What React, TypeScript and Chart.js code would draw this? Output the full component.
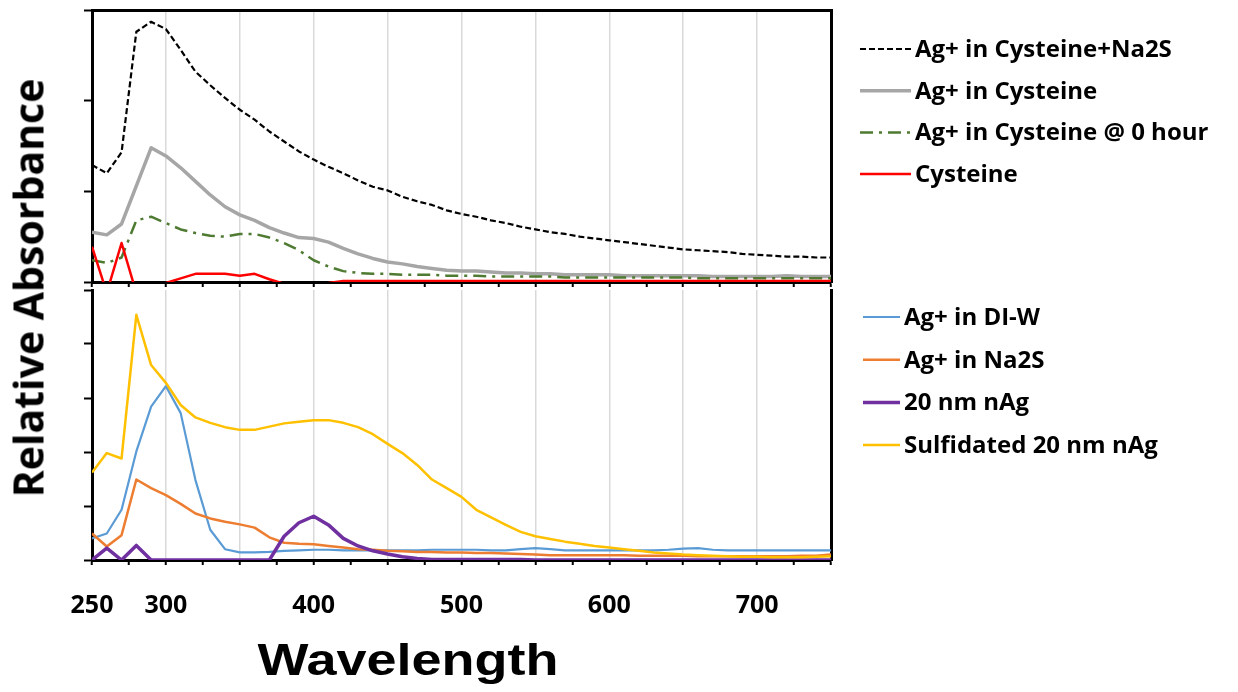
import React, { useEffect, useRef } from 'react';
import { Chart, registerables } from 'chart.js';

Chart.register(...registerables);

// ---------- data ----------
const WAVELENGTHS = [
  250, 260, 270, 280, 290, 300, 310, 320, 330, 340,
  350, 360, 370, 380, 390, 400, 410, 420, 430, 440,
  450, 460, 470, 480, 490, 500, 510, 520, 530, 540,
  550, 560, 570, 580, 590, 600, 610, 620, 630, 640,
  650, 660, 670, 680, 690, 700, 710, 720, 730, 740,
  750,
];

const X_TICK_LABELS = [250, 300, 400, 500, 600, 700];

// top panel
const AG_CYS_NA2S = [
  1.29, 1.20, 1.43, 2.76, 2.87, 2.79, 2.56, 2.32, 2.17, 2.03,
  1.90, 1.79, 1.66, 1.55, 1.44, 1.35, 1.27, 1.20, 1.12, 1.05,
  1.01, 0.94, 0.89, 0.85, 0.79, 0.75, 0.72, 0.68, 0.65, 0.61,
  0.58, 0.55, 0.53, 0.50, 0.48, 0.46, 0.44, 0.42, 0.40, 0.38,
  0.36, 0.35, 0.34, 0.33, 0.31, 0.30, 0.29, 0.28, 0.28, 0.27,
  0.27,
];
const AG_CYS = [
  0.55, 0.52, 0.64, 1.06, 1.48, 1.39, 1.26, 1.11, 0.96, 0.83,
  0.74, 0.68, 0.60, 0.54, 0.49, 0.48, 0.44, 0.37, 0.31, 0.26,
  0.22, 0.20, 0.17, 0.15, 0.13, 0.12, 0.12, 0.11, 0.10, 0.10,
  0.09, 0.09, 0.08, 0.08, 0.08, 0.08, 0.07, 0.07, 0.07, 0.07,
  0.07, 0.07, 0.06, 0.06, 0.06, 0.06, 0.06, 0.07, 0.06, 0.06,
  0.06,
];
const AG_CYS_0H = [
  0.24, 0.21, 0.27, 0.68, 0.72, 0.65, 0.58, 0.54, 0.51, 0.50,
  0.53, 0.53, 0.49, 0.43, 0.35, 0.24, 0.17, 0.12, 0.10, 0.09,
  0.09, 0.08, 0.08, 0.08, 0.07, 0.07, 0.07, 0.06, 0.06, 0.06,
  0.06, 0.06, 0.05, 0.05, 0.05, 0.05, 0.05, 0.05, 0.05, 0.05,
  0.05, 0.04, 0.04, 0.04, 0.04, 0.04, 0.04, 0.04, 0.04, 0.04,
  0.04,
];
const CYSTEINE = [
  0.39, -0.12, 0.43, -0.12, -0.15, -0.01, 0.04, 0.09, 0.09, 0.09,
  0.07, 0.09, 0.03, -0.02, -0.03, -0.02, -0.01, 0.01, 0.01, 0.01,
  0.01, 0.01, 0.01, 0.01, 0.01, 0.01, 0.01, 0.01, 0.01, 0.01,
  0.01, 0.01, 0.01, 0.01, 0.01, 0.01, 0.01, 0.01, 0.01, 0.01,
  0.01, 0.01, 0.01, 0.01, 0.01, 0.01, 0.01, 0.01, 0.01, 0.01,
  0.01,
];

// bottom panel
const AG_DIW = [
  0.40, 0.49, 0.93, 2.01, 2.84, 3.22, 2.72, 1.48, 0.56, 0.20,
  0.14, 0.14, 0.15, 0.17, 0.18, 0.19, 0.19, 0.18, 0.18, 0.18,
  0.18, 0.18, 0.18, 0.19, 0.19, 0.19, 0.19, 0.18, 0.18, 0.20,
  0.22, 0.20, 0.18, 0.18, 0.18, 0.18, 0.18, 0.18, 0.18, 0.19,
  0.21, 0.22, 0.19, 0.18, 0.18, 0.18, 0.18, 0.18, 0.18, 0.18,
  0.18,
];
const AG_NA2S = [
  0.49, 0.25, 0.46, 1.49, 1.33, 1.20, 1.04, 0.86, 0.77, 0.71,
  0.66, 0.60, 0.42, 0.32, 0.30, 0.29, 0.26, 0.23, 0.20, 0.19,
  0.17, 0.16, 0.15, 0.15, 0.14, 0.14, 0.13, 0.13, 0.12, 0.11,
  0.10, 0.09, 0.09, 0.09, 0.09, 0.09, 0.09, 0.08, 0.08, 0.08,
  0.08, 0.07, 0.07, 0.07, 0.07, 0.07, 0.07, 0.07, 0.08, 0.08,
  0.10,
];
const NAG_20 = [
  0.00, 0.22, 0.00, 0.27, 0.00, 0.00, 0.00, 0.00, 0.00, 0.00,
  0.00, 0.00, 0.00, 0.44, 0.69, 0.81, 0.65, 0.40, 0.26, 0.17,
  0.11, 0.06, 0.03, 0.01, 0.01, 0.01, 0.01, 0.01, 0.01, 0.01,
  0.00, 0.00, 0.00, 0.00, 0.00, 0.00, 0.00, 0.00, 0.00, 0.00,
  0.00, 0.00, 0.00, 0.00, 0.00, 0.00, 0.00, 0.00, 0.00, 0.00,
  0.00,
];
const SULF_NAG_20 = [
  1.62, 1.98, 1.88, 4.54, 3.61, 3.28, 2.87, 2.64, 2.54, 2.46,
  2.41, 2.41, 2.47, 2.53, 2.56, 2.59, 2.59, 2.54, 2.46, 2.33,
  2.15, 1.98, 1.76, 1.49, 1.33, 1.17, 0.93, 0.79, 0.65, 0.52,
  0.44, 0.39, 0.34, 0.30, 0.26, 0.23, 0.20, 0.17, 0.14, 0.12,
  0.10, 0.09, 0.08, 0.07, 0.06, 0.06, 0.05, 0.05, 0.05, 0.06,
  0.07,
];

// ---------- layout / style ----------
const PAGE_W = 1238;
const PLOT_LEFT = 92;
const PLOT_RIGHT = 831;
const TOP_CANVAS_TOP = 0;
const TOP_CANVAS_H = 288;
const BOT_CANVAS_TOP = 286;
const BOT_CANVAS_H = 406;

const LEGEND_FONT = "bold 24px 'Open Sans', sans-serif";

const sideLegend = {
  id: 'sideLegend',
  afterDraw(chart: any, _args: any, opts: any) {
    const { ctx } = chart;
    ctx.save();
    ctx.font = opts.font;
    ctx.textBaseline = 'middle';
    ctx.textAlign = 'left';
    chart.data.datasets.forEach((ds: any, i: number) => {
      const y = opts.top + i * opts.gap;
      ctx.beginPath();
      ctx.setLineDash(ds.borderDash || []);
      ctx.strokeStyle = ds.borderColor;
      ctx.lineWidth = ds.borderWidth;
      ctx.moveTo(opts.lineStart, y);
      ctx.lineTo(opts.lineEnd, y);
      ctx.stroke();
      ctx.setLineDash([]);
      ctx.fillStyle = '#000';
      ctx.fillText(ds.label, opts.textX, y + 1);
    });
    ctx.restore();
  },
};

function line(label: string, data: number[], color: string, width: number, dash: number[], order: number) {
  return {
    label,
    data,
    borderColor: color,
    backgroundColor: color,
    borderWidth: width,
    borderDash: dash,
    borderJoinStyle: 'round',
    pointRadius: 0,
    pointHoverRadius: 0,
    tension: 0,
    fill: false,
    order,
  };
}

function xAxis(showLabels: boolean, height: number) {
  return {
    type: 'linear',
    position: 'bottom',
    min: 250,
    max: 750,
    ticks: {
      stepSize: 25,
      autoSkip: false,
      maxRotation: 0,
      minRotation: 0,
      display: showLabels,
      padding: 28,
      color: '#000',
      font: { family: "'Open Sans', sans-serif", weight: 'bold', size: 25, lineHeight: 1 },
      callback: (v: number) => (X_TICK_LABELS.includes(v) ? String(v) : ''),
    },
    grid: {
      color: (c: any) => {
        const v = c.tick ? c.tick.value : NaN;
        return v % 50 === 0 && v > 250 && v < 750 ? '#d9d9d9' : 'rgba(0,0,0,0)';
      },
      lineWidth: 1.5,
      tickColor: '#000',
      tickWidth: 2,
      tickLength: 5,
    },
    border: { color: '#000', width: 3 },
    afterFit: (s: any) => {
      s.height = height;
    },
  };
}

function yAxis(max: number) {
  return {
    type: 'linear',
    position: 'left',
    min: 0,
    max,
    ticks: { display: false, stepSize: 1 },
    grid: { drawOnChartArea: false, tickLength: 8, tickColor: '#000', tickWidth: 2 },
    border: { color: '#000', width: 3 },
    afterFit: (s: any) => {
      s.width = PLOT_LEFT;
    },
  };
}

const frameAxis = (position: string) => ({
  type: 'linear',
  position,
  display: true,
  ticks: { display: false },
  grid: { display: false, drawTicks: false },
  border: { display: true, color: '#000', width: 3 },
  afterFit: (s: any) => {
    if (position === 'top' || position === 'bottom') s.height = 0;
    else s.width = 0;
  },
});

function topConfig(): any {
  return {
    type: 'line',
    data: {
      labels: WAVELENGTHS,
      datasets: [
        line('Ag+ in Cysteine+Na2S', AG_CYS_NA2S, '#000000', 2.2, [6, 3], 4),
        line('Ag+ in Cysteine', AG_CYS, '#a6a6a6', 3.5, [], 3),
        line('Ag+ in Cysteine @ 0 hour', AG_CYS_0H, '#4f7a32', 2.5, [13, 6, 3, 6], 2),
        line('Cysteine', CYSTEINE, '#ff0000', 2.5, [], 1),
      ],
    },
    options: {
      responsive: false,
      animation: false,
      devicePixelRatio: 1,
      layout: { padding: { left: 0, right: PAGE_W - PLOT_RIGHT, top: 10, bottom: 1 } },
      scales: {
        x: xAxis(false, 5),
        y: yAxis(3),
        xTop: frameAxis('top'),
        yRight: frameAxis('right'),
      },
      plugins: {
        legend: { display: false },
        tooltip: { enabled: false },
        sideLegend: {
          font: LEGEND_FONT,
          top: 49 - TOP_CANVAS_TOP,
          gap: 41.7,
          lineStart: 860,
          lineEnd: 911,
          textX: 915,
        },
      },
    },
    plugins: [sideLegend],
  };
}

function bottomConfig(): any {
  return {
    type: 'line',
    data: {
      labels: WAVELENGTHS,
      datasets: [
        line('Ag+ in DI-W', AG_DIW, '#5b9bd5', 2.2, [], 4),
        line('Ag+ in Na2S', AG_NA2S, '#ed7d31', 2.5, [], 3),
        line('20 nm nAg', NAG_20, '#7030a0', 3.5, [], 2),
        line('Sulfidated 20 nm nAg', SULF_NAG_20, '#ffc000', 2.5, [], 1),
      ],
    },
    options: {
      responsive: false,
      animation: false,
      devicePixelRatio: 1,
      layout: { padding: { left: 0, right: PAGE_W - PLOT_RIGHT, top: 290 - BOT_CANVAS_TOP, bottom: 0 } },
      scales: {
        x: xAxis(true, BOT_CANVAS_H - (560 - BOT_CANVAS_TOP)),
        y: yAxis(5),
        yRight: frameAxis('right'),
      },
      plugins: {
        legend: { display: false },
        tooltip: { enabled: false },
        sideLegend: {
          font: LEGEND_FONT,
          top: 317 - BOT_CANVAS_TOP,
          gap: 42.7,
          lineStart: 863,
          lineEnd: 900,
          textX: 904,
        },
      },
    },
    plugins: [sideLegend],
  };
}

export default function App() {
  const topRef = useRef<HTMLCanvasElement>(null);
  const botRef = useRef<HTMLCanvasElement>(null);

  useEffect(() => {
    const top = new Chart(topRef.current as HTMLCanvasElement, topConfig());
    const bot = new Chart(botRef.current as HTMLCanvasElement, bottomConfig());
    return () => {
      top.destroy();
      bot.destroy();
    };
  }, []);

  return (
    <div
      style={{
        position: 'fixed',
        left: 0,
        top: 0,
        width: PAGE_W,
        height: 692,
        background: '#ffffff',
        overflow: 'hidden',
      }}
    >
      <canvas
        ref={topRef}
        width={PAGE_W}
        height={TOP_CANVAS_H}
        style={{ position: 'absolute', left: 0, top: TOP_CANVAS_TOP }}
      />
      <canvas
        ref={botRef}
        width={PAGE_W}
        height={BOT_CANVAS_H}
        style={{ position: 'absolute', left: 0, top: BOT_CANVAS_TOP }}
      />
      <div
        style={{
          position: 'absolute',
          left: 28,
          top: 288,
          transform: 'translate(-50%, -50%) rotate(-90deg)',
          whiteSpace: 'nowrap',
          font: "bold 41px 'Open Sans', sans-serif",
          lineHeight: '1',
          color: '#000',
        }}
      >
        Relative Absorbance
      </div>
      <div
        style={{
          position: 'absolute',
          left: 408,
          top: 659,
          transform: 'translate(-50%, -50%) scaleX(1.2)',
          whiteSpace: 'nowrap',
          font: "bold 45px 'Liberation Sans', Arial, sans-serif",
          lineHeight: '1',
          color: '#000',
        }}
      >
        Wavelength
      </div>
    </div>
  );
}
